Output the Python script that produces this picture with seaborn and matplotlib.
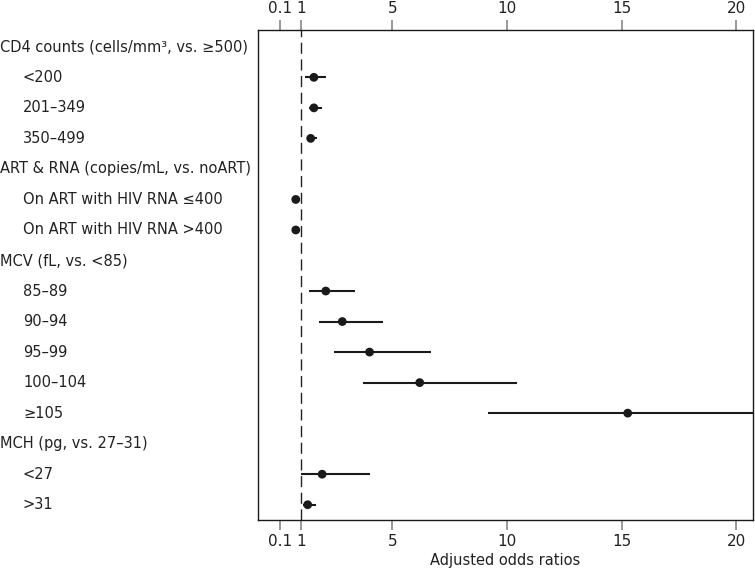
import numpy as np
import pandas as pd
import matplotlib
matplotlib.use("Agg")
import matplotlib.pyplot as plt
import matplotlib.transforms as mtransforms
import seaborn as sns

# Row labels (headers are not indented and have no estimate)
labels = ["CD4 counts (cells/mm³, vs. ≥500)", "<200", "201–349", "350–499",
          "ART & RNA (copies/mL, vs. noART)", "On ART with HIV RNA ≤400",
          "On ART with HIV RNA >400",
          "MCV (fL, vs. <85)", "85–89", "90–94", "95–99", "100–104", "≥105",
          "MCH (pg, vs. 27–31)", "<27", ">31"]
is_header = [True, False, False, False, True, False, False,
             True, False, False, False, False, False, True, False, False]

# odds ratios and 95% CI (NaN for header rows)
odds = [np.nan, 1.57, 1.57, 1.43, np.nan, 0.78, 0.78,
        np.nan, 2.09, 2.81, 4.0, 6.19, 15.27, np.nan, 1.93, 1.30]
ci_low = [np.nan, 1.17, 1.35, 1.26, np.nan, 0.76, 0.74,
          np.nan, 1.35, 1.80, 2.43, 3.71, 9.17, np.nan, 0.99, 1.09]
ci_high = [np.nan, 2.09, 1.91, 1.70, np.nan, 0.98, 0.98,
           np.nan, 3.38, 4.60, 6.70, 10.42, 25.0, np.nan, 4.00, 1.65]

x_ticks = [0.1, 1, 5, 10, 15, 20]

df = pd.DataFrame({"label": labels, "header": is_header, "or": odds,
                   "lo": ci_low, "hi": ci_high})
df["row"] = np.arange(len(df))
est = df.dropna(subset=["or"])

sns.set_style("white")
plt.rcParams["font.family"] = ["DejaVu Sans"]

fig = plt.figure(figsize=(7.55, 5.74), dpi=100)
ax = fig.add_axes([0.3417, 0.0941, 0.6557, 0.8536])

# dashed reference line at OR = 1
ax.axvline(1, color="#222222", lw=1.0, ls=(0, (8, 4)), zorder=1)

# confidence intervals
ax.hlines(est["row"], est["lo"], est["hi"], color="#1a1a1a", lw=1.5, zorder=2)

# point estimates
sns.scatterplot(data=est, x="or", y="row", ax=ax, color="#1a1a1a", s=40,
                edgecolor="none", zorder=3, legend=False)

ax.set_xlim(-0.87, 20.74)
ax.set_ylim(len(df) - 0.5, -0.55)
ax.set_yticks([])
ax.set_ylabel("")

ax.set_xticks(x_ticks)
ax.set_xticklabels(["0.1", "1", "5", "10", "15", "20"])
ax.tick_params(axis="x", top=True, labeltop=True, bottom=True, labelbottom=True,
               length=7, width=1.2, color="#888888", labelsize=11,
               labelcolor="#222222", pad=3)
ax.set_xlabel("Adjusted odds ratios", fontsize=10.5, color="#222222", labelpad=3)

for sp in ax.spines.values():
    sp.set_color("#1a1a1a")
    sp.set_linewidth(1.0)

# row labels on the left of the figure
trans = mtransforms.blended_transform_factory(fig.transFigure, ax.transData)
for _, r in df.iterrows():
    xpos = 0.0 if r["header"] else 23 / 755
    ax.text(xpos, r["row"], r["label"], transform=trans, ha="left", va="center",
            fontsize=10.5, color="#222222")

fig.savefig("out.png", dpi=100)
